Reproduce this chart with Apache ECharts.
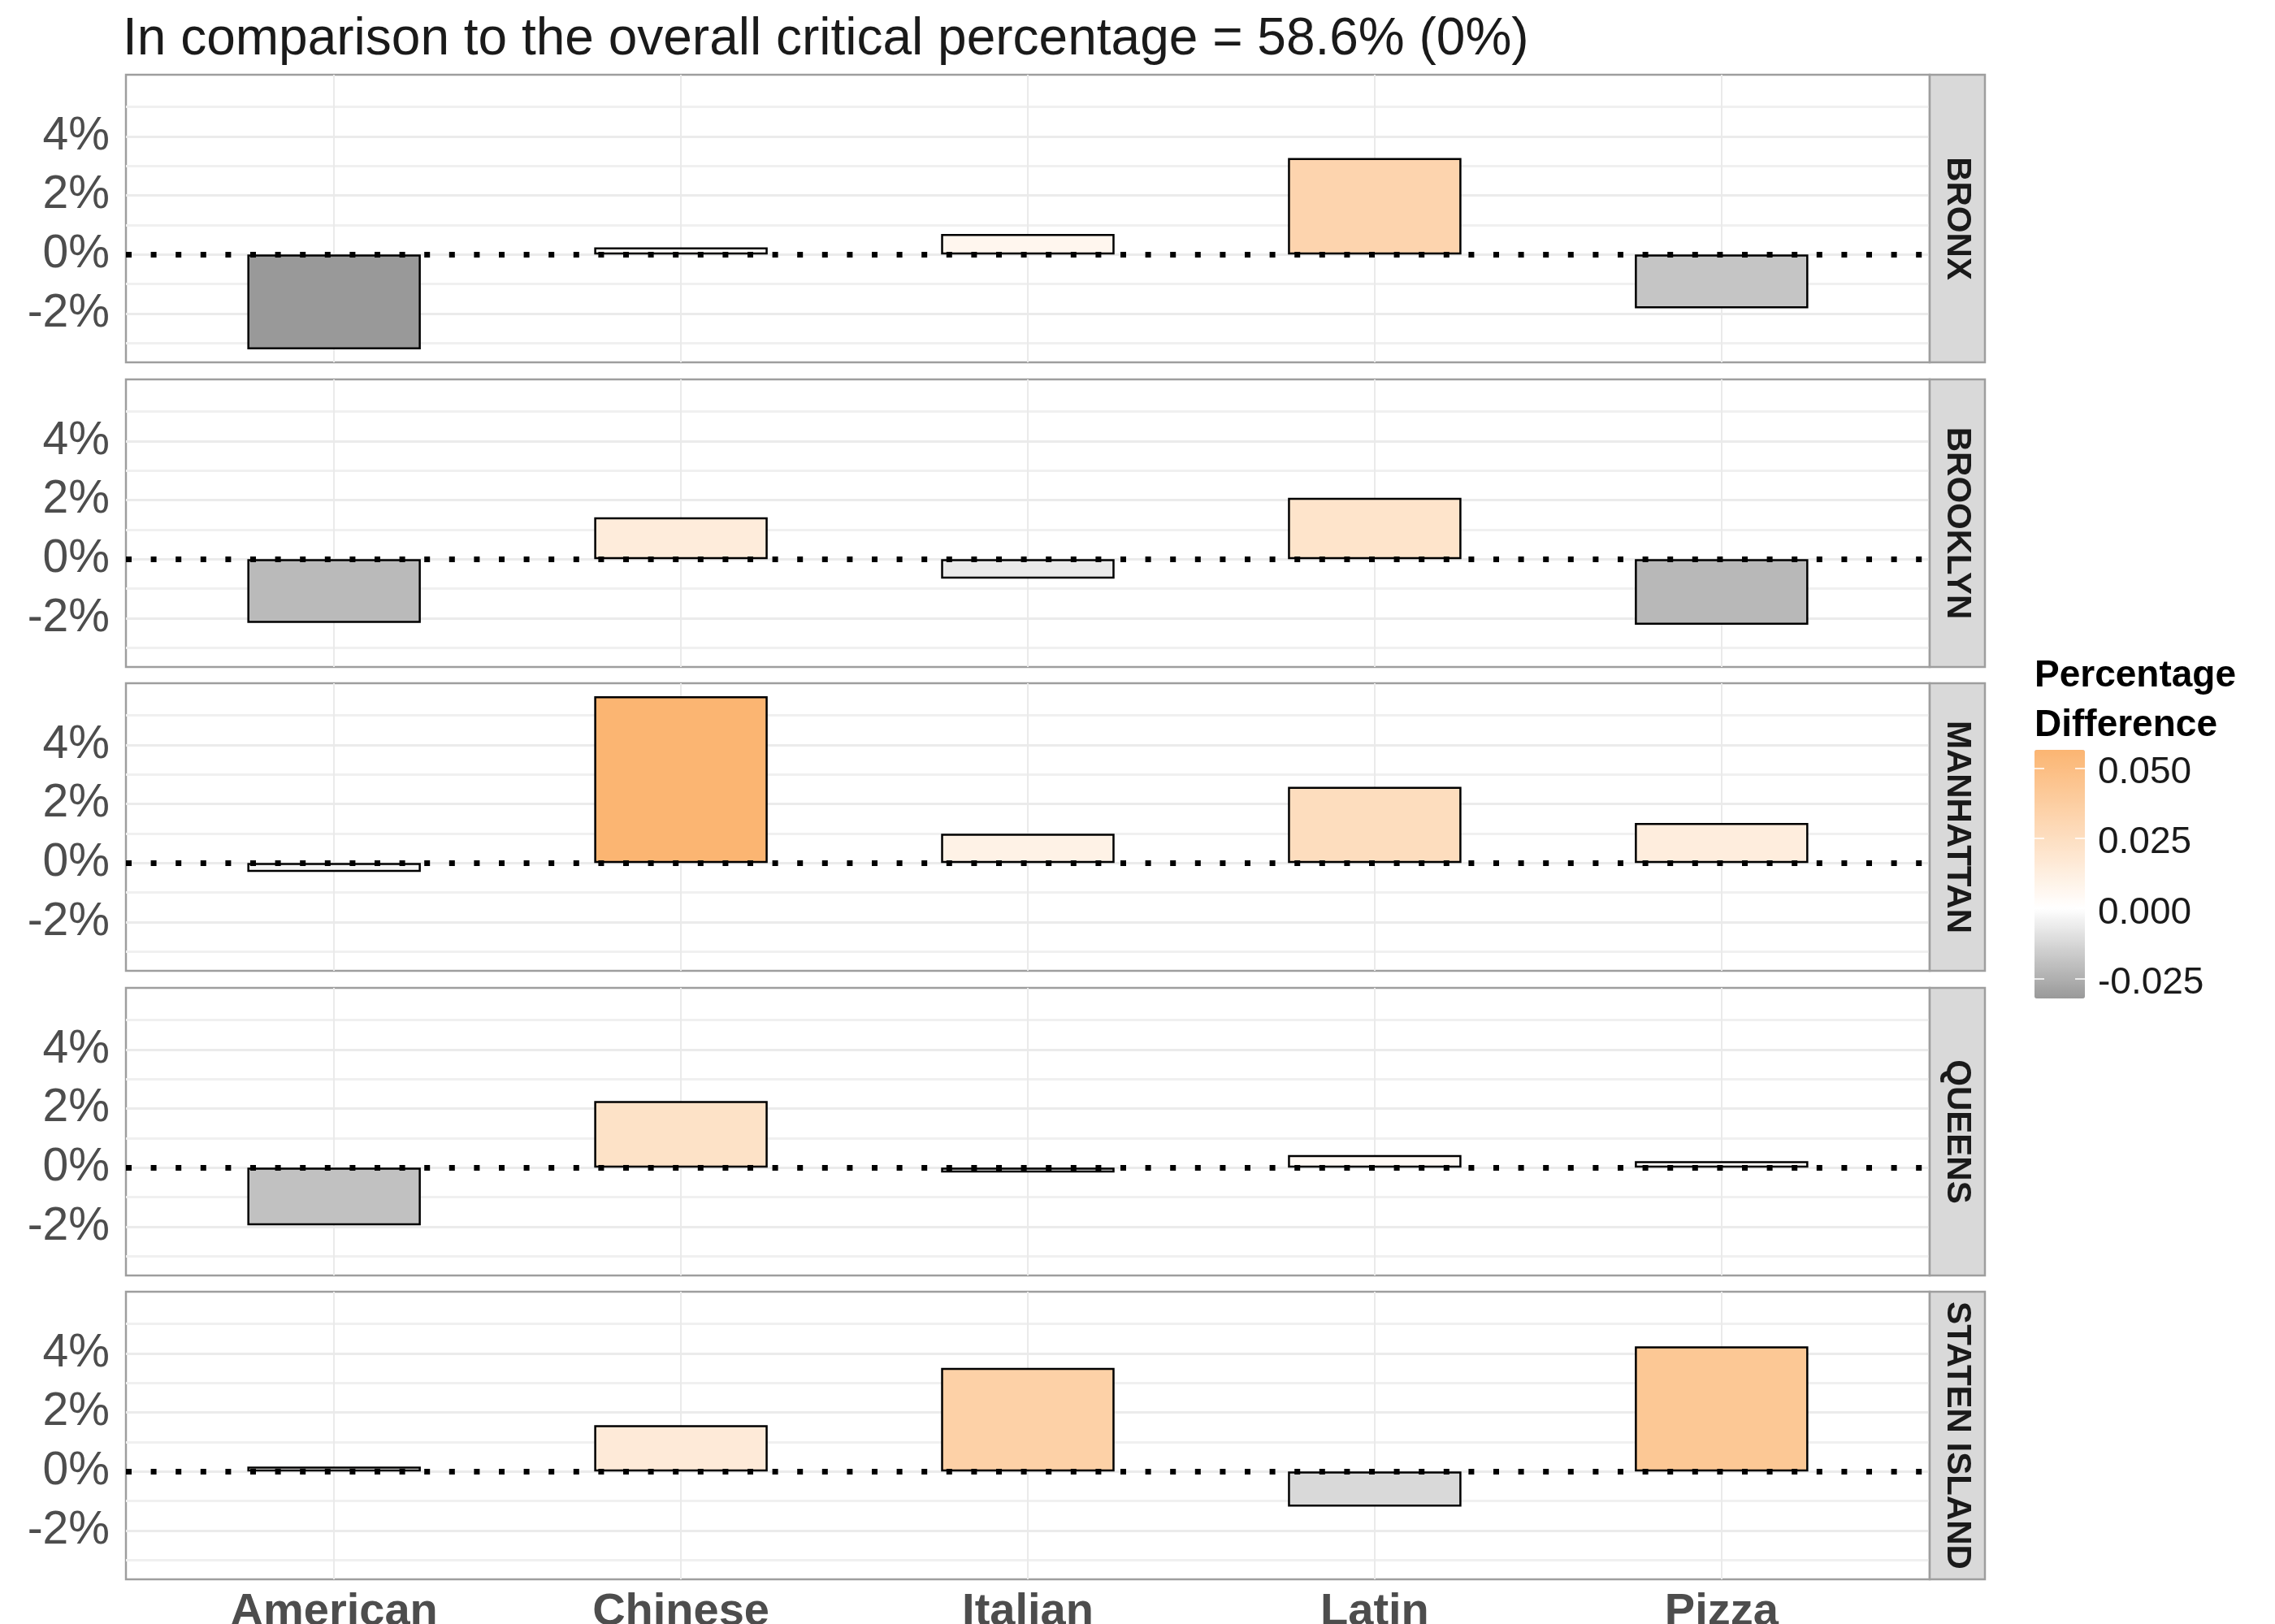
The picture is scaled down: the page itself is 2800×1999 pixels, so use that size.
<!DOCTYPE html>
<html><head><meta charset="utf-8">
<script src="https://cdn.jsdelivr.net/npm/echarts@6/dist/echarts.min.js"></script>
<style>html,body{margin:0;padding:0;background:#fff}#c{width:2800px;height:1999px}</style>
</head><body><div id="c"></div>
<script>
// ---------- data ----------
const categories = ['American', 'Chinese', 'Italian', 'Latin', 'Pizza'];
const boroughs = ['BRONX', 'BROOKLYN', 'MANHATTAN', 'QUEENS', 'STATEN ISLAND'];
// percentage-point difference vs overall critical percentage (in %)
const bronx     = [-3.21, 0.24, 0.70, 3.27, -1.82];
const brooklyn  = [-2.16, 1.42, -0.66, 2.08, -2.22];
const manhattan = [-0.30, 5.65, 0.99, 2.58, 1.36];
const queens    = [-1.95, 2.26, -0.16, 0.43, 0.22];
const staten    = [0.17, 1.57, 3.51, -1.19, 4.24];
const yMajorTicks = [-2, 0, 2, 4];
const yMinorTicks = [-3, -1, 1, 3, 5];
const legendTicks = [-0.025, 0, 0.025, 0.05];
const subtitle = 'In comparison to the overall critical percentage = 58.6% (0%)';
const legendTitle = 'Percentage\nDifference';

// ---------- layout / style ----------
const FONT = '"Liberation Sans", Arial, sans-serif';
const panelLeft = 155, panelWidth = 2220, panelTop = 92, panelStep = 374.5, panelHeight = 354, stripWidth = 68;
const legendBar = {left: 2504, top: 923, width: 62, height: 306};
const legendLabelShift = 6; // px, optical centring of legend labels
const lowColor = [153, 153, 153], midColor = [255, 255, 255], highColor = [251, 181, 114];

const panels = [bronx, brooklyn, manhattan, queens, staten];
const allVals = panels.flat();
const dmin = Math.min(...allVals), dmax = Math.max(...allVals);
const pad = (dmax - dmin) * 0.05;
const yMin = dmin - pad, yMax = dmax + pad;
const xMin = -0.6, xMax = categories.length - 1 + 0.6;
const barWidth = panelWidth / (xMax - xMin) * 0.5;
const catIdx = categories.map((c, i) => i);

function mix(a, b, t) { return a.map((v, k) => Math.round(v + (b[k] - v) * t)); }
function colorFor(v) {
  const c = v < 0 ? mix(midColor, lowColor, v / dmin) : mix(midColor, highColor, v / dmax);
  return 'rgb(' + c.join(',') + ')';
}
const stops = [];
for (let k = 0; k <= 200; k++) stops.push(colorFor(dmin + (dmax - dmin) * k / 200));

const grids = [], xAxes = [], yAxes = [], series = [], graphics = [];
panels.forEach((vals, i) => {
  const top = Math.round(panelTop + i * panelStep);
  const isLast = i === panels.length - 1;
  grids.push({left: panelLeft, top: top, width: panelWidth, height: panelHeight, outerBoundsMode: 'none',
    show: true, backgroundColor: '#fff', borderColor: '#9E9E9E', borderWidth: 2.5, containLabel: false});
  xAxes.push({type: 'value', gridIndex: i, min: xMin, max: xMax,
    axisLine: {show: false},
    axisTick: {show: false, customValues: catIdx},
    splitLine: {show: true, lineStyle: {color: '#EAEAEA', width: 2}},
    axisLabel: {show: isLast, customValues: catIdx, formatter: v => categories[Math.round(v)] || '',
      fontFamily: FONT, fontSize: 56, fontWeight: 'bold', color: '#4D4D4D', margin: 13}});
  yAxes.push({type: 'value', gridIndex: i, min: yMin, max: yMax,
    axisLine: {show: false},
    axisTick: {show: false, customValues: yMajorTicks},
    splitLine: {show: true, lineStyle: {color: '#EBEBEB', width: 3}},
    axisLabel: {customValues: yMajorTicks, formatter: v => v + '%',
      fontFamily: FONT, fontSize: 57, color: '#4D4D4D', margin: 20}});
  yAxes.push({type: 'value', gridIndex: i, min: yMin, max: yMax,
    axisLine: {show: false},
    axisTick: {show: false, customValues: yMinorTicks},
    splitLine: {show: true, lineStyle: {color: '#F0F0F0', width: 3}},
    axisLabel: {show: false}});
  series.push({type: 'bar', xAxisIndex: i, yAxisIndex: 2 * i, barWidth: barWidth,
    data: vals.map((v, j) => [j, v]),
    itemStyle: {borderColor: '#000', borderWidth: 2.5},
    emphasis: {disabled: true},
    markLine: {silent: true, symbol: 'none', label: {show: false},
      lineStyle: {color: '#000', width: 7, type: [7, 23.6], cap: 'butt'},
      emphasis: {disabled: true},
      data: [{yAxis: 0}]}});
  // facet strip
  graphics.push({type: 'rect', shape: {x: panelLeft + panelWidth, y: top, width: stripWidth, height: panelHeight},
    style: {fill: '#D9D9D9', stroke: '#9E9E9E', lineWidth: 2.5}, z: 10});
  graphics.push({type: 'text', x: panelLeft + panelWidth + stripWidth / 2, y: top + panelHeight / 2,
    rotation: -Math.PI / 2, z: 11,
    style: {text: boroughs[i], font: 'bold 42px ' + FONT, fill: '#1A1A1A', align: 'center', verticalAlign: 'middle'}});
});

// legend helper grid (labels + ticks of the colour bar)
const lg = panels.length;
const lMin = dmin / 100, lMax = dmax / 100;
const lShift = legendLabelShift * (lMax - lMin) / legendBar.height;
grids.push({left: legendBar.left, top: legendBar.top, width: legendBar.width, height: legendBar.height,
  show: false, outerBoundsMode: 'none'});
xAxes.push({type: 'value', gridIndex: lg, show: false, min: 0, max: 1});
yAxes.push({type: 'value', gridIndex: lg, position: 'right', min: lMin + lShift, max: lMax + lShift, z: 10,
  axisLine: {show: false}, splitLine: {show: false}, axisTick: {show: false, customValues: legendTicks},
  axisLabel: {customValues: legendTicks, formatter: v => v.toFixed(3), fontFamily: FONT, fontSize: 46,
    color: '#1A1A1A', margin: 16}});
yAxes.push({type: 'value', gridIndex: lg, position: 'right', min: lMin, max: lMax, z: 10,
  axisLine: {show: false}, splitLine: {show: false}, axisLabel: {show: false},
  axisTick: {show: true, inside: true, length: 12, customValues: legendTicks, lineStyle: {color: '#fff', width: 1.5}}});
yAxes.push({type: 'value', gridIndex: lg, position: 'left', min: lMin, max: lMax, z: 10,
  axisLine: {show: false}, splitLine: {show: false}, axisLabel: {show: false},
  axisTick: {show: true, inside: true, length: 12, customValues: legendTicks, lineStyle: {color: '#fff', width: 1.5}}});

graphics.push({type: 'text', x: legendBar.left, y: 802,
  style: {text: legendTitle, font: 'bold 46px ' + FONT, fill: '#000', lineHeight: 61, align: 'left', verticalAlign: 'top'}});

const chart = echarts.init(document.getElementById('c'), null, {renderer: 'canvas'});
chart.setOption({
  animation: false,
  backgroundColor: '#fff',
  title: {text: subtitle, left: 151, top: 17, padding: 0,
    textStyle: {fontFamily: FONT, fontSize: 64, fontWeight: 'normal', color: '#1A1A1A', lineHeight: 64}},
  grid: grids, xAxis: xAxes, yAxis: yAxes, series: series,
  visualMap: {type: 'continuous', min: dmin, max: dmax, dimension: 1,
    seriesIndex: series.map((s, i) => i), calculable: false, text: null, showLabel: false,
    left: legendBar.left, top: legendBar.top, itemWidth: legendBar.width, itemHeight: legendBar.height,
    padding: 0, hoverLink: false, inRange: {color: stops}},
  graphic: graphics
});
</script></body></html>
